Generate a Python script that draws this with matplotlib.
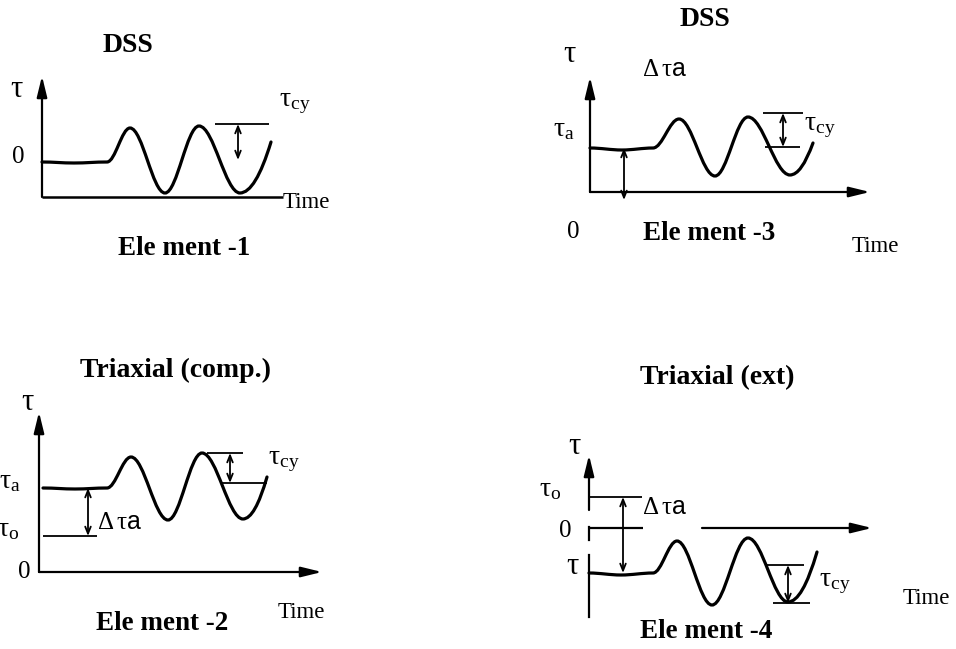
import numpy as np
import matplotlib.pyplot as plt
from matplotlib.path import Path
from matplotlib.patches import PathPatch

plt.rcParams['font.family'] = ['Liberation Serif', 'DejaVu Serif']
plt.rcParams['mathtext.fontset'] = 'custom'
plt.rcParams['mathtext.rm'] = 'Liberation Serif'
plt.rcParams['mathtext.it'] = 'Liberation Serif:italic'
plt.rcParams['mathtext.sf'] = 'Liberation Sans'

W, H = 956, 649

# shear stress history of each element: (time, tau) at the turning points
e1_time = [0, 32, 65, 88, 123, 157, 198, 229]
e1_tau = [35, 34, 35, 69, 4, 71, 4, 55]

e2_time = [4, 36, 68, 92, 129, 163, 204, 228]
e2_tau = [84, 83, 84, 115, 52, 119, 53, 95]

e3_time = [0, 32, 63, 89, 125, 158, 200, 223]
e3_tau = [44, 42, 44, 73, 16, 75, 17, 49]

e4_time = [0, 32, 64, 88, 123, 159, 199, 228]
e4_tau = [-45, -47, -45, -13, -77, -10, -74, -24]

# cyclic amplitude brackets (lower, upper)
e1_cy = (37, 73)
e2_cy = (89, 119)
e3_cy = (45, 79)
e4_cy = (-75, -37)

# static offset delta tau_a (from, to)
e2_da = (36, 84)
e3_da = (-8, 44)
e4_da = (-45, 31)

TAU = r'$\mathrm{\tau}$'
TAU_CY = r'$\mathrm{\tau_{cy}}$'
TAU_A = r'$\mathrm{\tau_{a}}$'
TAU_O = r'$\mathrm{\tau_{o}}$'
DTAU_A = r'$\mathrm{\Delta\,\tau}\mathsf{a}$'


def panel_axes(fig, ox, oy):
    # one data unit is one pixel, origin at the corner of the tau-time axes
    x0, x1, y0, y1 = -80, 380, -130, 230
    ax = fig.add_axes([(ox + x0) / W, (H - oy + y0) / H, (x1 - x0) / W, (y1 - y0) / H])
    ax.set_xlim(x0, x1)
    ax.set_ylim(y0, y1)
    ax.axis('off')
    ax.patch.set_alpha(0)
    return ax


def wave_path(t, tau, k=0.36):
    verts = [(t[0], tau[0])]
    codes = [Path.MOVETO]
    for i in range(len(t) - 2):
        dt = t[i + 1] - t[i]
        verts += [(t[i] + k * dt, tau[i]), (t[i + 1] - k * dt, tau[i + 1]), (t[i + 1], tau[i + 1])]
        codes += [Path.CURVE4] * 3
    dt = t[-1] - t[-2]
    verts += [(t[-2] + 0.5 * dt, tau[-2]), (t[-1], tau[-1])]
    codes += [Path.CURVE3] * 2
    return Path(verts, codes)


def draw_wave(ax, t, tau):
    ax.add_patch(PathPatch(wave_path(t, tau), facecolor='none', edgecolor='k', lw=2.3,
                           capstyle='round', clip_on=False))


def axis_arrow(ax, start, end):
    ax.annotate('', xy=end, xytext=start,
                arrowprops=dict(arrowstyle='-|>,head_length=0.9,head_width=0.22', color='k',
                                lw=1.6, shrinkA=0, shrinkB=0, mutation_scale=14))


def dim_arrow(ax, t, lo, hi):
    ax.annotate('', xy=(t, hi), xytext=(t, lo),
                arrowprops=dict(arrowstyle='<->,head_length=0.5,head_width=0.2', color='k',
                                lw=1.3, shrinkA=0, shrinkB=0, mutation_scale=10))


def hline(ax, tau, t0, t1, lw=1.3):
    ax.plot([t0, t1], [tau, tau], color='k', lw=lw, clip_on=False, solid_capstyle='butt')


def label(ax, t, tau, s, size=20, ha='center', **kw):
    ax.text(t, tau, s, fontsize=size, ha=ha, va='center', **kw)


fig = plt.figure(figsize=(W / 100, H / 100), dpi=100)

# Element 1 - DSS
ax = panel_axes(fig, 42, 197)
axis_arrow(ax, (0, 0), (0, 121))
hline(ax, 0, 0, 241, lw=1.8)
draw_wave(ax, e1_time, e1_tau)
hline(ax, e1_cy[1], 173, 227)
dim_arrow(ax, 196, e1_cy[0], e1_cy[1])
label(ax, -25, 108, TAU, size=22)
label(ax, -24, 40, '0', size=18)
label(ax, 237, 94, TAU_CY, ha='left')
label(ax, 241, -5, 'Time', size=16.5, ha='left')
label(ax, 86, 152, 'DSS', size=20, fontweight='bold')
label(ax, 142, -51, 'Ele ment -1', size=19.5, fontweight='bold')

# Element 2 - triaxial compression
ax = panel_axes(fig, 39, 572)
axis_arrow(ax, (0, 0), (0, 160))
axis_arrow(ax, (0, 0), (283, 0))
draw_wave(ax, e2_time, e2_tau)
hline(ax, e2_cy[1], 168, 204)
hline(ax, e2_cy[0], 181, 228)
dim_arrow(ax, 191, e2_cy[0], e2_cy[1])
hline(ax, e2_da[0], 4, 58)
dim_arrow(ax, 49, e2_da[0], e2_da[1])
label(ax, -11, 170, TAU, size=22)
label(ax, -29, 90, TAU_A)
label(ax, -31, 42, TAU_O)
label(ax, -15, 0, '0', size=18)
label(ax, 229, 110, TAU_CY, ha='left')
label(ax, 58, 49, DTAU_A, size=18, ha='left')
label(ax, 239, -41, 'Time', size=16.5, ha='left')
label(ax, 136, 202, 'Triaxial (comp.)', size=20, fontweight='bold')
label(ax, 123, -51, 'Ele ment -2', size=19.5, fontweight='bold')

# Element 3 - DSS with static shear
ax = panel_axes(fig, 590, 192)
axis_arrow(ax, (0, 0), (0, 115))
axis_arrow(ax, (0, 0), (280, 0))
draw_wave(ax, e3_time, e3_tau)
hline(ax, e3_cy[1], 173, 213)
hline(ax, e3_cy[0], 175, 210)
dim_arrow(ax, 193, e3_cy[0], e3_cy[1])
dim_arrow(ax, 34, e3_da[0], e3_da[1])
label(ax, -20, 137, TAU, size=22)
label(ax, -26, 62, TAU_A)
label(ax, -17, -40, '0', size=18)
label(ax, 214, 65, TAU_CY, ha='left')
label(ax, 52, 122, DTAU_A, size=18, ha='left')
label(ax, 262, -55, 'Time', size=16.5, ha='left')
label(ax, 115, 172, 'DSS', size=20, fontweight='bold')
label(ax, 119, -41, 'Ele ment -3', size=19.5, fontweight='bold')

# Element 4 - triaxial extension
ax = panel_axes(fig, 589, 528)
axis_arrow(ax, (0, 18), (0, 73))
ax.plot([0, 0], [1, -12], color='k', lw=1.6, clip_on=False)
ax.plot([0, 0], [-27, -89], color='k', lw=1.6, clip_on=False)
hline(ax, 0, 0, 54, lw=1.6)
axis_arrow(ax, (113, 0), (283, 0))
draw_wave(ax, e4_time, e4_tau)
hline(ax, e4_da[1], 0, 53)
dim_arrow(ax, 34, e4_da[0], e4_da[1])
hline(ax, e4_cy[1], 176, 215)
hline(ax, e4_cy[0], 184, 221)
dim_arrow(ax, 199, e4_cy[0], e4_cy[1])
label(ax, -14, 81, TAU, size=22)
label(ax, -39, 38, TAU_O)
label(ax, -24, -3, '0', size=18)
label(ax, -16, -39, TAU, size=22)
label(ax, 53, 20, DTAU_A, size=18, ha='left')
label(ax, 230, -55, TAU_CY, ha='left')
label(ax, 314, -70, 'Time', size=16.5, ha='left')
label(ax, 128, 150, 'Triaxial (ext)', size=20, fontweight='bold')
label(ax, 117, -104, 'Ele ment -4', size=19.5, fontweight='bold')

fig.savefig('out.png', dpi=100, facecolor='white')
